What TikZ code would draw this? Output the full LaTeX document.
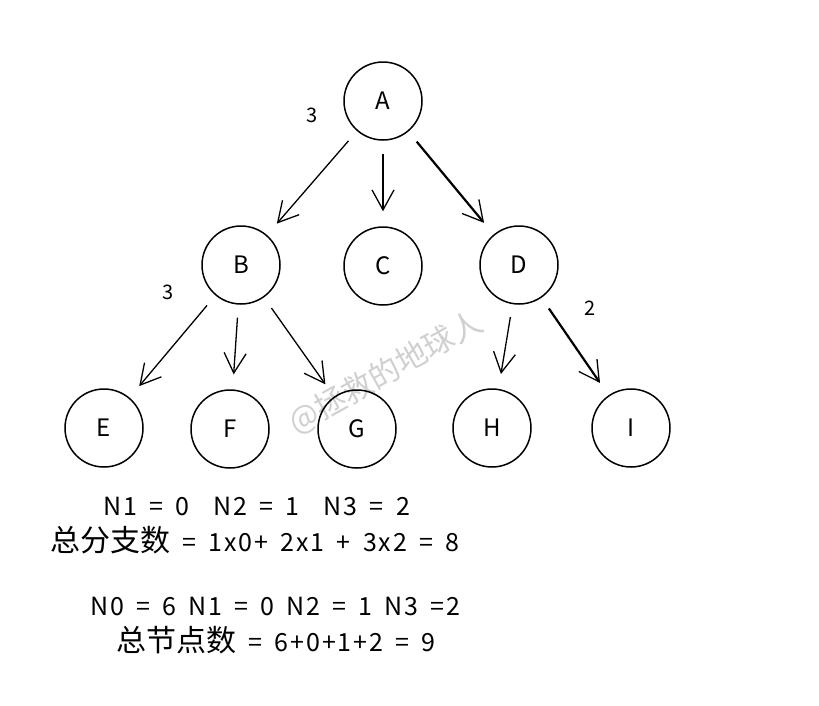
\documentclass[tikz,border=0pt]{standalone}
\usepackage{fontspec}
\setmainfont{Noto Sans CJK SC}
\newfontfamily\hand[LetterSpace=8, WordSpace=1.6]{Noto Sans CJK SC}
\newfontfamily\cjk{Noto Sans CJK SC}
\usepackage{tikz}
\usepackage{xcolor}
\definecolor{lgray}{RGB}{208,208,208}
\usetikzlibrary{positioning, arrows.meta}
\tikzstyle{Vertex} = [
circle,
draw,
line width=1.5pt,
minimum size=78pt,
inner sep=0pt,
font=\fontsize{24}{24}\selectfont]
\tikzstyle{Arrow} = [
line width=1.3pt,
-{Straight Barb[length=20pt, width=22pt, line width=1.3pt]},
shorten <= 13pt, shorten >= 15pt]
\tikzstyle{ArrowBold} = [
Arrow,
line width=2.2pt]
\tikzstyle{Weight} = [font=\fontsize{20}{20}\selectfont]
\tikzstyle{Sum} = [anchor=west, inner sep=0pt, font=\hand\fontsize{25}{25}\selectfont]
\newcommand{\zh}[1]{{\cjk\fontsize{30}{30}\selectfont #1}}

\begin{document}
\begin{tikzpicture}[x=1pt, y=-1pt, node distance=164pt, on grid]
    \useasboundingbox (0,0) rectangle (819,705);
    \node [text=lgray, rotate=29, font=\fontsize{31}{31}\selectfont] (mark) at (386,373) {@拯救的地球人};

    \node [Vertex] (A) at (383,101) {A};
    \node [Vertex, below left =164pt and 142pt of A] (B) {B};
    \node [Vertex, below =165pt of A] (C) {C};
    \node [Vertex, below right =164pt and 136pt of A] (D) {D};
    \node [Vertex, below left =163pt and 137pt of B] (E) {E};
    \node [Vertex, below left =164pt and 11pt of B] (F) {F};
    \node [Vertex, below right =164pt and 116pt of B] (G) {G};
    \node [Vertex, below left =163pt and 27pt of D] (H) {H};
    \node [Vertex, below right =163pt and 112pt of D] (I) {I};

    \node [Weight] (wA) at (312,115) {3};
    \node [Weight] (wB) at (168,292) {3};
    \node [Weight] (wD) at (590,308) {2};

    \draw[Arrow] (A) -- (B);
    \draw[Arrow] (A) -- (C);
    \draw[ArrowBold] (A) -- (D);
    \draw[Arrow] (B) -- (E);
    \draw[Arrow] (B) -- (F);
    \draw[Arrow] (B) -- (G);
    \draw[Arrow] (D) -- (H);
    \draw[ArrowBold] (D) -- (I);

    \node [Sum] (n1) at (103,506) {N1 = 0\ \ N2 = 1\ \ N3 = 2};
    \node [Sum] (s1) at (50,540) {\zh{总分支数} = 1x0+ 2x1 + 3x2 = 8};
    \node [Sum] (n2) at (90,606) {N0 = 6 N1 = 0 N2 = 1 N3 =2};
    \node [Sum] (s2) at (116,640) {\zh{总节点数} = 6+0+1+2 = 9};
\end{tikzpicture}
\end{document}
